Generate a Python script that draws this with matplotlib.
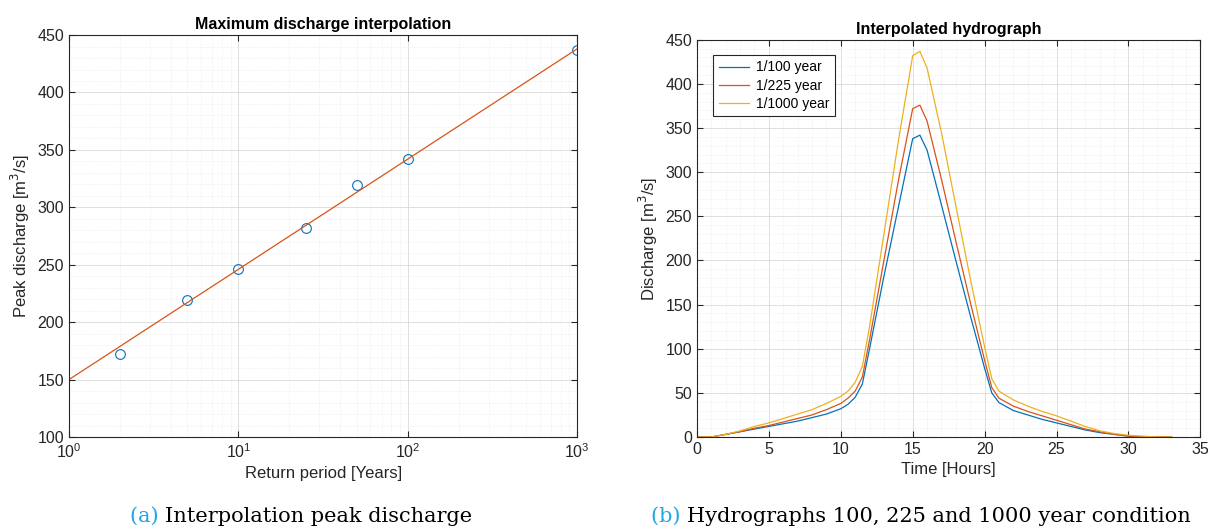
import matplotlib
matplotlib.use("Agg")
import matplotlib.pyplot as plt
from matplotlib.ticker import MultipleLocator, LogLocator, NullFormatter
import numpy as np

plt.rcParams['font.family'] = ['Liberation Sans', 'DejaVu Sans']

# peak discharge per return period
return_period = [2, 5, 10, 25, 50, 100, 1000]
peak_discharge = [172, 219, 246, 282, 319, 342, 437]
# fitted line (end points)
fit_period = [1, 1000]
fit_discharge = [150, 438]

# hydrographs
hours = [0, 1, 2, 3, 4, 5, 6, 7, 8, 9, 10, 10.5, 11, 11.5, 12, 13, 14, 15, 15.5,
         16, 17, 18, 19, 20, 20.5, 21, 22, 23, 24, 25, 26, 27, 28, 29, 30, 31, 32, 33]
q_100 = [0, 0, 3, 6, 9, 12, 15, 18, 22, 26, 32, 37, 45, 60, 100, 182, 260, 338, 342,
         325, 263, 200, 138, 78, 50, 39, 30, 25, 20, 16, 12, 8, 5, 3, 1, 0, 0, 0]
q_225 = [0, 0, 3, 6, 10, 13, 17, 21, 25, 31, 38, 44, 52, 68, 110, 200, 290, 372, 376,
         358, 292, 222, 153, 87, 56, 44, 35, 29, 24, 19, 14, 9, 6, 3, 1, 0, 0, 0]
q_1000 = [0, 0, 3, 7, 12, 16, 21, 26, 31, 38, 46, 52, 62, 80, 125, 230, 335, 432, 437,
          418, 345, 262, 180, 102, 66, 52, 42, 35, 29, 24, 18, 12, 7, 4, 2, 1, 0, 0]
series_labels = ['1/100 year', '1/225 year', '1/1000 year']

matlab_colors = ['#0072BD', '#D95319', '#EDB120']
ink = '#262626'


def matlab_style(ax):
    ax.set_axisbelow(True)
    ax.grid(True, which='major', color='#d9d9d9', linewidth=0.6)
    ax.grid(True, which='minor', color='#e6e6e6', linewidth=0.5, linestyle=':')
    ax.tick_params(which='both', direction='in', top=True, right=True,
                   colors=ink, labelsize=11.5, labelcolor=ink)
    ax.tick_params(which='major', length=4)
    ax.tick_params(which='minor', length=0)
    for s in ax.spines.values():
        s.set_color(ink)
        s.set_linewidth(0.8)


def caption(fig, xc, y, tag, rest):
    r = fig.canvas.get_renderer()
    probe = fig.text(xc, y, tag + ' ' + rest, ha='center', va='baseline',
                     family='DejaVu Serif', fontsize=15)
    bb = probe.get_window_extent(r)
    probe.remove()
    x0 = bb.x0 / fig.bbox.width
    t = fig.text(x0, y, tag + ' ', ha='left', va='baseline',
                 family='DejaVu Serif', fontsize=15, color='#1ea7e1')
    fig.canvas.draw()
    fig.text(t.get_window_extent(r).x1 / fig.bbox.width, y, rest, ha='left',
             va='baseline', family='DejaVu Serif', fontsize=15, color='black')


fig = plt.figure(figsize=(12.1, 5.31), dpi=100)
ax1 = fig.add_axes([0.057, 0.177, 0.420, 0.757])
ax2 = fig.add_axes([0.576, 0.177, 0.416, 0.748])

# left: peak discharge vs return period
ax1.semilogx(return_period, peak_discharge, 'o', mfc='none', mec=matlab_colors[0],
             ms=7, mew=0.8)
ax1.semilogx(fit_period, fit_discharge, '-', color=matlab_colors[1], lw=0.9)
ax1.set_xlim(1, 1000)
ax1.set_ylim(100, 450)
ax1.yaxis.set_major_locator(MultipleLocator(50))
ax1.yaxis.set_minor_locator(MultipleLocator(10))
ax1.xaxis.set_minor_locator(LogLocator(base=10, subs=np.arange(2, 10)))
ax1.xaxis.set_minor_formatter(NullFormatter())
matlab_style(ax1)
ax1.set_title('Maximum discharge interpolation', fontsize=11.5, fontweight='bold', pad=4)
ax1.set_xlabel('Return period [Years]', fontsize=12, color=ink)
ax1.set_ylabel('Peak discharge [m$^3$/s]', fontsize=12, color=ink)

# right: hydrographs
for q, lab, c in zip([q_100, q_225, q_1000], series_labels, matlab_colors):
    ax2.plot(hours, q, color=c, lw=0.9, label=lab)
ax2.set_xlim(0, 35)
ax2.set_ylim(0, 450)
ax2.xaxis.set_major_locator(MultipleLocator(5))
ax2.xaxis.set_minor_locator(MultipleLocator(1))
ax2.yaxis.set_major_locator(MultipleLocator(50))
ax2.yaxis.set_minor_locator(MultipleLocator(10))
matlab_style(ax2)
ax2.set_title('Interpolated hydrograph', fontsize=11.5, fontweight='bold', pad=4)
ax2.set_xlabel('Time [Hours]', fontsize=12, color=ink)
ax2.set_ylabel('Discharge [m$^3$/s]', fontsize=12, color=ink)
leg = ax2.legend(loc='upper left', fontsize=10, fancybox=False, framealpha=1,
                 edgecolor=ink, borderpad=0.4, handlelength=2.2, handletextpad=0.5,
                 labelspacing=0.3, borderaxespad=0, bbox_to_anchor=(0.032, 0.962))
leg.get_frame().set_linewidth(0.8)

fig.canvas.draw()
caption(fig, 0.249, 0.017, '(a)', 'Interpolation peak discharge')
caption(fig, 0.761, 0.017, '(b)', 'Hydrographs 100, 225 and 1000 year condition')

fig.savefig('out.png', dpi=100)
